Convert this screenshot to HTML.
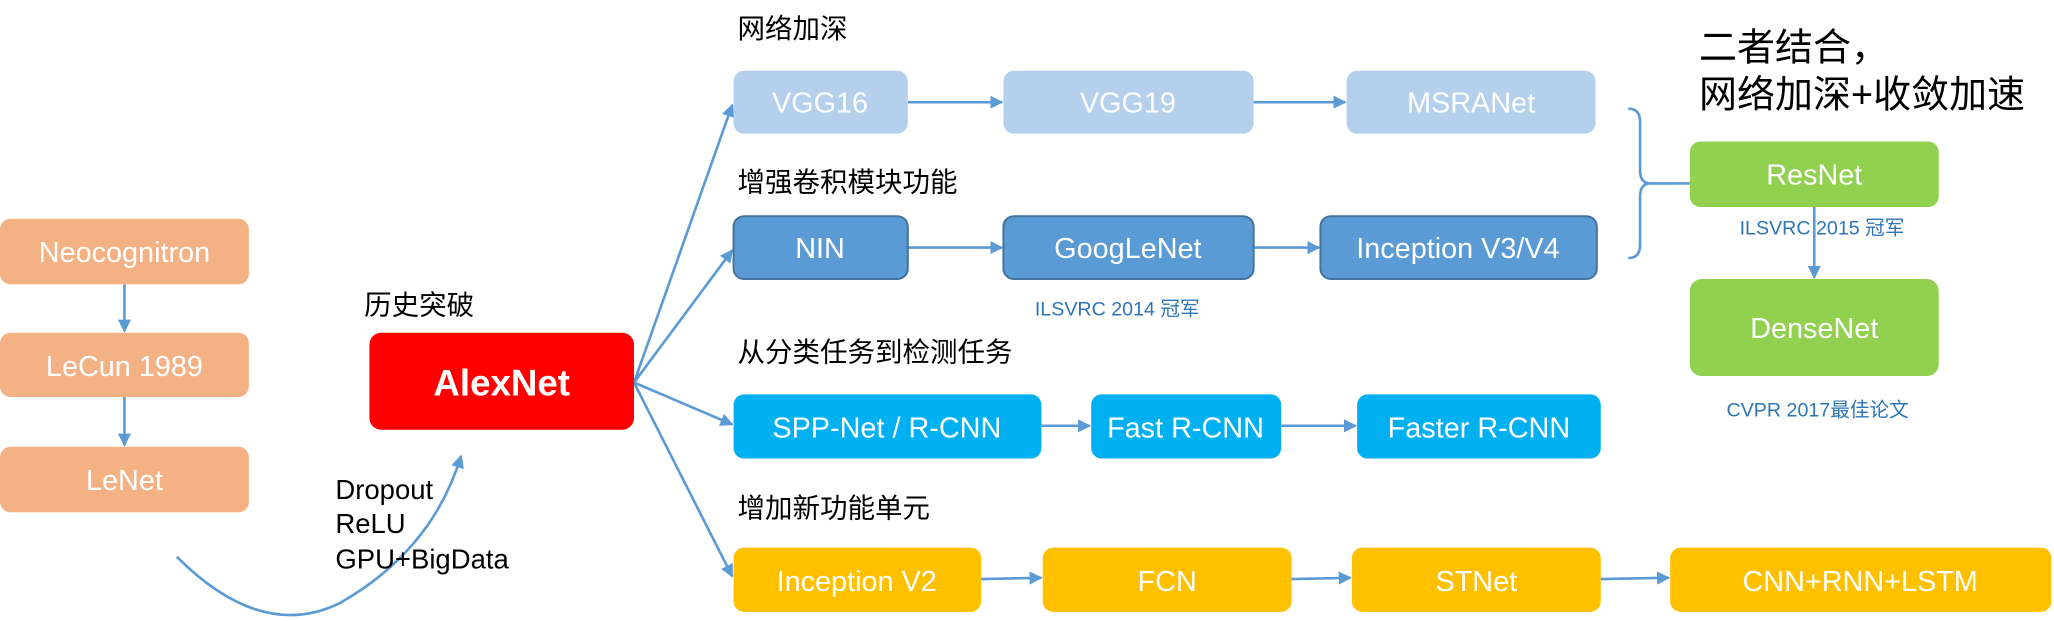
<!DOCTYPE html>
<html><head><meta charset="utf-8"><style>
html,body{margin:0;padding:0;background:#fff;}
svg{display:block;}
svg text{font-family:"Liberation Sans","Noto Sans CJK SC",sans-serif;}
</style></head><body>
<svg width="2054" height="621" viewBox="0 0 1568 474" preserveAspectRatio="none" xmlns="http://www.w3.org/2000/svg">
<defs>
<marker id="a" markerWidth="10" markerHeight="10" refX="9" refY="5" orient="auto" markerUnits="userSpaceOnUse"><path d="M0,0 L10,5 L0,10 z" fill="#5b9bd5"/></marker>
</defs>
<g stroke="#5b9bd5" stroke-width="2" fill="none">
<line x1="95" y1="217" x2="95" y2="253" marker-end="url(#a)"/>
<line x1="95" y1="303" x2="95" y2="340" marker-end="url(#a)"/>
<path d="M135,425 Q200,490 260,460 Q330,420 352,348" marker-end="url(#a)"/>
<line x1="484" y1="292" x2="559" y2="80" marker-end="url(#a)"/>
<line x1="484" y1="292" x2="559" y2="191" marker-end="url(#a)"/>
<line x1="484" y1="292" x2="559" y2="324" marker-end="url(#a)"/>
<line x1="484" y1="292" x2="559" y2="440" marker-end="url(#a)"/>
<line x1="693" y1="78" x2="765" y2="78" marker-end="url(#a)"/>
<line x1="957" y1="78" x2="1027" y2="78" marker-end="url(#a)"/>
<line x1="693" y1="189" x2="765" y2="189" marker-end="url(#a)"/>
<line x1="957" y1="189" x2="1007" y2="189" marker-end="url(#a)"/>
<line x1="795" y1="325" x2="832" y2="325" marker-end="url(#a)"/>
<line x1="978" y1="325" x2="1035" y2="325" marker-end="url(#a)"/>
<line x1="749" y1="442" x2="795" y2="441" marker-end="url(#a)"/>
<line x1="986" y1="442" x2="1031" y2="441" marker-end="url(#a)"/>
<line x1="1222" y1="442" x2="1274" y2="441" marker-end="url(#a)"/>
<line x1="1385" y1="158" x2="1385" y2="212" marker-end="url(#a)"/>
<path d="M1243,83 Q1252,83 1252,93 L1252,130 Q1252,140 1260,140 Q1252,140 1252,150 L1252,187 Q1252,197 1243,197"/>
<line x1="1260" y1="140" x2="1290" y2="140"/>
</g>
<g font-size="22" fill="#fff" text-anchor="middle">
<rect x="0" y="167" width="190" height="50" rx="8" fill="#f4b183"/><text x="95" y="200">Neocognitron</text>
<rect x="0" y="254" width="190" height="49" rx="8" fill="#f4b183"/><text x="95" y="287">LeCun 1989</text>
<rect x="0" y="341" width="190" height="50" rx="8" fill="#f4b183"/><text x="95" y="374">LeNet</text>
<rect x="282" y="254" width="202" height="74" rx="9" fill="#ff0000"/><text x="383" y="302" font-size="28" font-weight="bold">AlexNet</text>
<rect x="560" y="54" width="133" height="48" rx="8" fill="#b4d0ec"/><text x="626" y="86">VGG16</text>
<rect x="766" y="54" width="191" height="48" rx="8" fill="#b4d0ec"/><text x="861" y="86">VGG19</text>
<rect x="1028" y="54" width="190" height="48" rx="8" fill="#b4d0ec"/><text x="1123" y="86">MSRANet</text>
<rect x="560" y="165" width="133" height="48" rx="8" fill="#5b9bd5" stroke="#41719c" stroke-width="1.5"/><text x="626" y="197">NIN</text>
<rect x="766" y="165" width="191" height="48" rx="8" fill="#5b9bd5" stroke="#41719c" stroke-width="1.5"/><text x="861" y="197">GoogLeNet</text>
<rect x="1008" y="165" width="211" height="48" rx="8" fill="#5b9bd5" stroke="#41719c" stroke-width="1.5"/><text x="1113" y="197">Inception V3/V4</text>
<rect x="560" y="301" width="235" height="49" rx="8" fill="#00b0f0"/><text x="677" y="334">SPP-Net / R-CNN</text>
<rect x="833" y="301" width="145" height="49" rx="8" fill="#00b0f0"/><text x="905" y="334">Fast R-CNN</text>
<rect x="1036" y="301" width="186" height="49" rx="8" fill="#00b0f0"/><text x="1129" y="334">Faster R-CNN</text>
<rect x="560" y="418" width="189" height="49" rx="8" fill="#ffc000"/><text x="654" y="451">Inception V2</text>
<rect x="796" y="418" width="190" height="49" rx="8" fill="#ffc000"/><text x="891" y="451">FCN</text>
<rect x="1032" y="418" width="190" height="49" rx="8" fill="#ffc000"/><text x="1127" y="451">STNet</text>
<rect x="1275" y="418" width="291" height="49" rx="8" fill="#ffc000"/><text x="1420" y="451">CNN+RNN+LSTM</text>
<rect x="1290" y="108" width="190" height="50" rx="8" fill="#92d050"/><text x="1385" y="141">ResNet</text>
<rect x="1290" y="213" width="190" height="74" rx="9" fill="#92d050"/><text x="1385" y="258">DenseNet</text>
</g>
<g font-size="21" fill="#000">
<text x="278" y="240">历史突破</text>
<text x="256" y="381">Dropout</text>
<text x="256" y="407">ReLU</text>
<text x="256" y="434">GPU+BigData</text>
<text x="563" y="29">网络加深</text>
<text x="563" y="146">增强卷积模块功能</text>
<text x="563" y="276">从分类任务到检测任务</text>
<text x="563" y="395">增加新功能单元</text>
<text x="1297" y="46" font-size="29">二者结合，</text>
<text x="1297" y="82" font-size="29">网络加深+收敛加速</text>
</g>
<g font-size="15" fill="#2e75b6">
<text x="790" y="241">ILSVRC 2014 冠军</text>
<text x="1328" y="179">ILSVRC 2015 冠军</text>
<text x="1318" y="318">CVPR 2017最佳论文</text>
</g>
</svg>
</body></html>
